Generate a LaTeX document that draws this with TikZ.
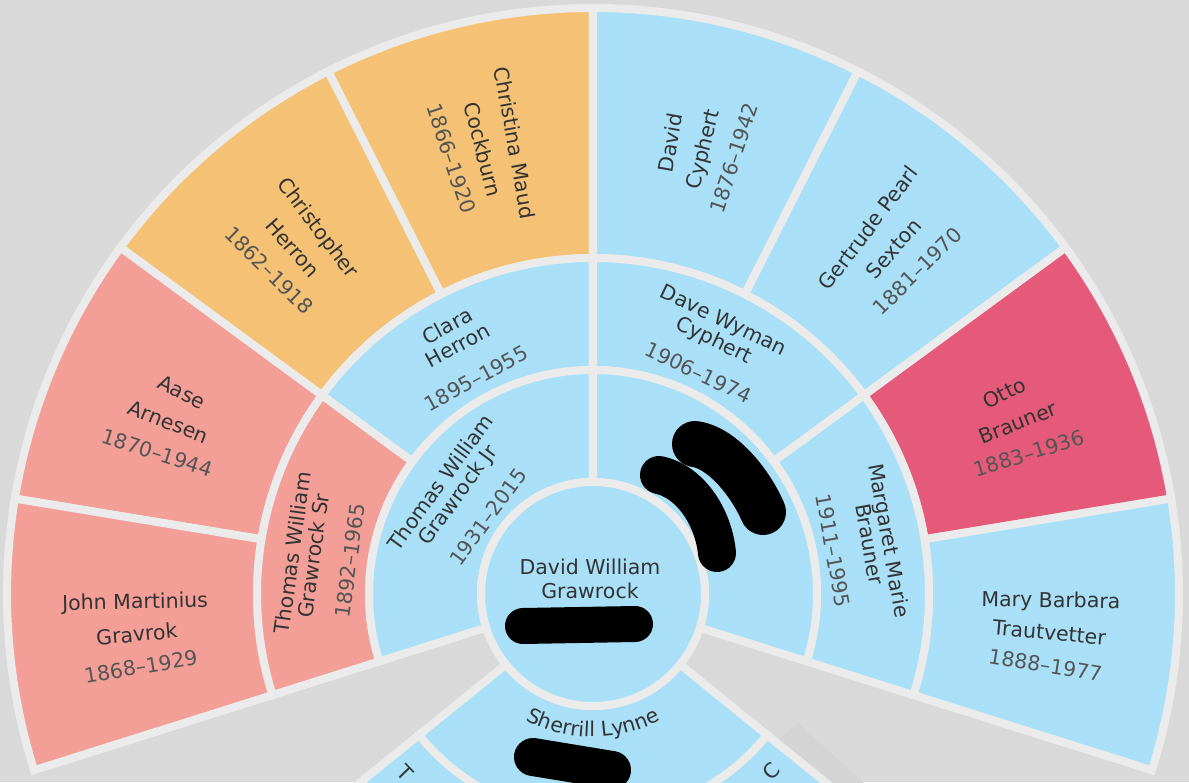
\documentclass[tikz,border=0pt]{standalone}
\usepackage{fontspec}
\setmainfont{DejaVu Sans}
\usetikzlibrary{decorations.text}
\definecolor{bg}{HTML}{D9D9D9}
\definecolor{bgshade}{HTML}{D4D4D4}
\definecolor{sep}{HTML}{EBEBEB}
\definecolor{cblue}{HTML}{A9E0F7}
\definecolor{corange}{HTML}{F5C275}
\definecolor{csalmon}{HTML}{F39F97}
\definecolor{crose}{HTML}{E55A7B}
\definecolor{ink}{HTML}{333333}
\definecolor{dateink}{HTML}{555555}
% sector: r1 r2 a1 a2 colour
\newcommand\fanseg[5]{\filldraw[segst, fill=#5] (#3:#1pt) arc[start angle=#3, end angle=#4, radius=#1pt] -- (#4:#2pt) arc[start angle=#4, end angle=#3, radius=#2pt] -- cycle;}
% outer ring, radial text, left half: name, centre angle, 3 lines
\newcommand\outerleft[5]{%
 \node[nm, rotate={#2-4.1-180}] (#1a) at ({#2-4.1}:458pt) {#3};
 \node[nm, rotate={#2-180}] (#1b) at ({#2}:458pt) {#4};
 \node[dt, rotate={#2+4.1-180}] (#1c) at ({#2+4.1}:458pt) {#5};}
\newcommand\outerright[5]{%
 \node[nm, rotate={#2+4.1}] (#1a) at ({#2+4.1}:458pt) {#3};
 \node[nm, rotate={#2}] (#1b) at ({#2}:458pt) {#4};
 \node[dt, rotate={#2-4.1}] (#1c) at ({#2-4.1}:458pt) {#5};}
% tangential text: name, angle, r1, r2, r3, line1, line2, line3
\newcommand\tang[8]{%
 \node[nm, rotate={#2-90}] (#1a) at ({#2}:#3pt) {#6};
 \node[nm, rotate={#2-90}] (#1b) at ({#2}:#4pt) {#7};
 \node[dt, rotate={#2-90}] (#1c) at ({#2}:#5pt) {#8};}
\begin{document}
\begin{tikzpicture}[
  segst/.style={draw=sep, line width=8pt, line join=miter},
  nm/.style={font=\fontsize{20.5}{24}\selectfont, text=ink, inner sep=0pt, text height=14.5pt, text depth=4pt},
  dt/.style={nm, text=dateink},
  scrib/.style={draw=black, line width=40pt, line cap=round, line join=round}
]
\useasboundingbox (-593pt,-188pt) rectangle (596pt,594pt);
\clip (-593pt,-188pt) rectangle (596pt,594pt);
\fill[bg] (-593pt,-188pt) rectangle (596pt,594pt);
% faint shaded card at lower right
\fill[bgshade] (205pt,-129pt) -- (127pt,-192pt) -- (238pt,-293pt) -- (316pt,-230pt) -- cycle;
% descendants
\fanseg{224}{336}{-141}{-90}{cblue}
\fanseg{224}{336}{-90}{-39}{cblue}
\fanseg{112}{224}{-141}{-39}{cblue}
% generation 3
\fanseg{336}{586}{90}{116.875}{corange}
\fanseg{336}{586}{116.875}{143.75}{corange}
\fanseg{336}{586}{143.75}{170.625}{csalmon}
\fanseg{336}{586}{170.625}{197.5}{csalmon}
\fanseg{336}{586}{63.125}{90}{cblue}
\fanseg{336}{586}{36.25}{63.125}{cblue}
\fanseg{336}{586}{9.375}{36.25}{crose}
\fanseg{336}{586}{-17.5}{9.375}{cblue}
% generation 2
\fanseg{224}{336}{90}{143.75}{cblue}
\fanseg{224}{336}{143.75}{197.5}{csalmon}
\fanseg{224}{336}{36.25}{90}{cblue}
\fanseg{224}{336}{-17.5}{36.25}{cblue}
% generation 1
\fanseg{112}{224}{90}{197.5}{cblue}
\fanseg{112}{224}{-17.5}{90}{cblue}
% centre
\filldraw[segst, fill=cblue] (0,0) circle[radius=112pt];

% texts, outer ring
\outerleft{cm}{104.2}{Christina Maud}{Cockburn}{1866–1920}
\outerleft{ch}{131.2}{Christopher}{Herron}{1862–1918}
\outerleft{aa}{158.2}{Aase}{Arnesen}{1870–1944}
\outerleft{jm}{185.3}{John Martinius}{Gravrok}{1868–1929}
\outerright{dc}{75.9}{David}{Cyphert}{1876–1942}
\outerright{gp}{48.7}{Gertrude Pearl}{Sexton}{1881–1970}
\outerright{ob}{21.7}{Otto}{Brauner}{1883–1936}
\outerright{mb}{-5.1}{Mary Barbara}{Trautvetter}{1888–1977}
% middle ring
\tang{clh}{118.5}{303}{281}{243}{Clara}{Herron}{1895–1955}
\tang{tws}{172.2}{301}{280}{243}{Thomas William}{Grawrock Sr}{1892–1965}
\tang{dwc}{64.5}{302}{280}{243}{Dave Wyman}{Cyphert}{1906–1974}
\tang{mmb}{10.2}{299}{279}{242}{Margaret Marie}{Brauner}{1911–1995}
% inner ring
\tang{twj}{143.8}{187}{166}{128}{Thomas William}{Grawrock Jr}{1931–2015}
% centre
\node[nm] (dw1) at (-3pt,25pt) {David William};
\node[nm] (dw2) at (-3pt,1pt) {Grawrock};
% descendants text
\path[decorate, decoration={text along path, text align=center, text color=ink,
  text={|\fontsize{20.5}{24}\selectfont|Sherrill Lynne}}]
  (-130:143pt) arc[start angle=-130, end angle=-50, radius=143pt];
\node[nm, rotate=-46] (gcl) at (-136.4:262pt) {T};
\node[nm, rotate=45] (gcr) at (-44.8:254pt) {C};
% redaction strokes
\draw[scrib, line width=46pt] (102pt,150pt) .. controls (130pt,146pt) and (158pt,110pt) .. (170pt,82pt);
\draw[scrib, line width=38pt] (66pt,119pt) .. controls (95pt,113pt) and (120pt,80pt) .. (124pt,41pt);
\draw[scrib, line width=36pt] (-70pt,-32pt) -- (42pt,-30pt);
\draw[scrib, line width=38pt] (-60pt,-163pt) -- (19pt,-176pt);
\end{tikzpicture}
\end{document}
